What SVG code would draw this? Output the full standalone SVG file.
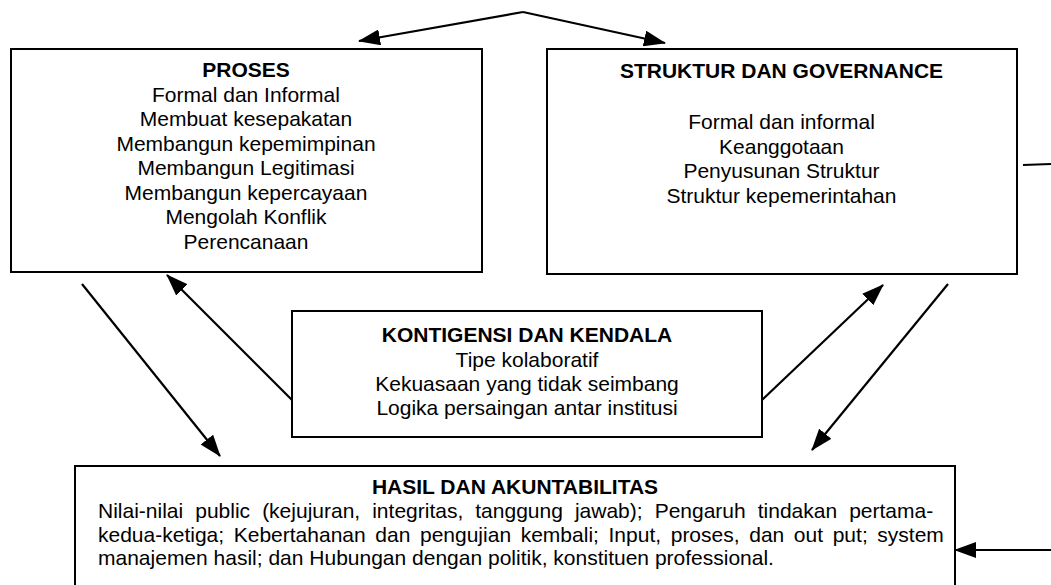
<svg xmlns="http://www.w3.org/2000/svg" width="1051" height="585" viewBox="0 0 1051 585">
  <style>
    .box { fill: #ffffff; stroke: #000000; stroke-width: 2; }
    .txt { font-family: "Liberation Sans", Arial, Helvetica, sans-serif; font-size: 21px; fill: #000000; }
    .ttl { font-weight: bold; }
    .mid { text-anchor: middle; }
    .link { fill: none; stroke: #000000; stroke-width: 2.2; }
    .arrow { marker-end: url(#head); }
  </style>
  <defs>
    <marker id="head" markerUnits="userSpaceOnUse" markerWidth="22" markerHeight="16" viewBox="0 0 22 16" refX="21" refY="8" orient="auto">
      <path d="M0,0 L22,8 L0,16 Z" fill="#000000"/>
    </marker>
  </defs>

  <rect width="1051" height="585" fill="#ffffff"/>

  <g id="proses">
    <rect class="box" x="11" y="49" width="471" height="223"/>
    <text class="txt ttl mid" x="246" y="77">PROSES</text>
    <text class="txt mid" x="246" y="101.5">Formal dan Informal</text>
    <text class="txt mid" x="246" y="126">Membuat kesepakatan</text>
    <text class="txt mid" x="246" y="150.5">Membangun kepemimpinan</text>
    <text class="txt mid" x="246" y="175">Membangun Legitimasi</text>
    <text class="txt mid" x="246" y="199.5">Membangun kepercayaan</text>
    <text class="txt mid" x="246" y="224">Mengolah Konflik</text>
    <text class="txt mid" x="246" y="248.5">Perencanaan</text>
  </g>

  <g id="struktur">
    <rect class="box" x="547" y="49" width="470" height="225"/>
    <text class="txt ttl mid" x="781.5" y="78">STRUKTUR DAN GOVERNANCE</text>
    <text class="txt mid" x="781.5" y="129">Formal dan informal</text>
    <text class="txt mid" x="781.5" y="153.5">Keanggotaan</text>
    <text class="txt mid" x="781.5" y="178">Penyusunan Struktur</text>
    <text class="txt mid" x="781.5" y="202.5">Struktur kepemerintahan</text>
  </g>

  <g id="kontigensi">
    <rect class="box" x="292" y="311" width="470" height="126"/>
    <text class="txt ttl mid" x="527" y="342">KONTIGENSI DAN KENDALA</text>
    <text class="txt mid" x="527" y="367">Tipe kolaboratif</text>
    <text class="txt mid" x="527" y="391">Kekuasaan yang tidak seimbang</text>
    <text class="txt mid" x="527" y="415">Logika persaingan antar institusi</text>
  </g>

  <g id="hasil">
    <rect class="box" x="75" y="466" width="880" height="130"/>
    <text class="txt ttl mid" x="515" y="494">HASIL DAN AKUNTABILITAS</text>
    <text class="txt" x="98" y="518" word-spacing="6.2">Nilai-nilai public (kejujuran, integritas, tanggung jawab); Pengaruh tindakan pertama-</text>
    <text class="txt" x="98" y="541.5" word-spacing="3.8">kedua-ketiga; Kebertahanan dan pengujian kembali; Input, proses, dan out put; system</text>
    <text class="txt" x="98" y="565">manajemen hasil; dan Hubungan dengan politik, konstituen professional.</text>
  </g>

  <g id="connectors">
    <!-- split arrow at the top, fanning out to both upper boxes -->
    <polyline class="link arrow" points="523,12 359,41"/>
    <polyline class="link arrow" points="523,12 665,43"/>
    <!-- PROSES down to HASIL -->
    <line class="link arrow" x1="82" y1="284" x2="220" y2="456"/>
    <!-- KONTIGENSI up to PROSES and STRUKTUR -->
    <line class="link arrow" x1="292" y1="400" x2="167" y2="275"/>
    <line class="link arrow" x1="762" y1="400" x2="883" y2="285"/>
    <!-- STRUKTUR down to HASIL -->
    <line class="link arrow" x1="948" y1="284" x2="812" y2="450"/>
    <!-- feedback lines entering from the right edge -->
    <line class="link" x1="1023" y1="165" x2="1051" y2="164"/>
    <line class="link arrow" x1="1051" y1="550" x2="955" y2="550"/>
  </g>
</svg>
